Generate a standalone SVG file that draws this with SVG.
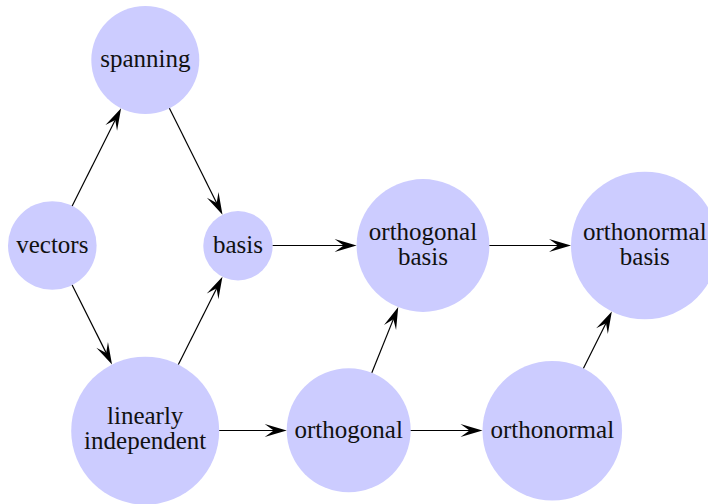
<svg xmlns="http://www.w3.org/2000/svg" width="708" height="504" viewBox="0 0 708 504">
<style>
.node circle{fill:#ccccff;stroke:none}
.node text{font-family:"Liberation Serif","Times New Roman",serif;font-size:25px;fill:#111;text-anchor:middle}
.edges path{fill:none;stroke:#000;stroke-width:1.2;marker-end:url(#stealth)}
</style>
<defs>
<marker id="stealth" markerUnits="userSpaceOnUse" markerWidth="22" markerHeight="13" viewBox="0 0 22 13" refX="12" refY="6.5" orient="auto" overflow="visible">
<path d="M22,6.5 L0,0 L9,6.5 L0,13 Z" fill="#000"/>
</marker>
</defs>
<g id="vectors" class="node"><circle cx="52.3" cy="245.5" r="44.3"/><text x="52.3" y="252.5">vectors</text></g>
<g id="spanning" class="node"><circle cx="145.3" cy="60" r="54"/><text x="145.3" y="67">spanning</text></g>
<g id="basis" class="node"><circle cx="238" cy="245.7" r="34.7"/><text x="238" y="252.5">basis</text></g>
<g id="orthogonal-basis" class="node"><circle cx="423" cy="245.5" r="66.4"/><text x="423" y="239.5">orthogonal</text><text x="423" y="264.5">basis</text></g>
<g id="orthonormal-basis" class="node"><circle cx="644.8" cy="245.5" r="73.8"/><text x="644.8" y="239.5">orthonormal</text><text x="644.8" y="264.5">basis</text></g>
<g id="linearly-independent" class="node"><circle cx="145.2" cy="430.7" r="74"/><text x="145.2" y="423.5">linearly</text><text x="145.2" y="448.5">independent</text></g>
<g id="orthogonal" class="node"><circle cx="348.7" cy="430.3" r="62"/><text x="348.7" y="437.5">orthogonal</text></g>
<g id="orthonormal" class="node"><circle cx="552.3" cy="430.8" r="69.8"/><text x="552.3" y="437.5">orthonormal</text></g>
<g id="connectors" class="edges">
<path d="M72.16,205.9 L116.62,117.22"/>
<path d="M169.42,108.31 L218.03,205.7"/>
<path d="M72.16,285.1 L107.54,355.61"/>
<path d="M178.38,364.55 L217.96,285.66"/>
<path d="M272.7,245.5 L346.6,245.5"/>
<path d="M489.4,245.5 L561,245.5"/>
<path d="M219.2,430.5 L276.7,430.5"/>
<path d="M410.7,430.5 L472.5,430.5"/>
<path d="M371.83,372.78 L394.5,316.39"/>
<path d="M583.47,368.35 L607.37,320.48"/>
</g>
</svg>
